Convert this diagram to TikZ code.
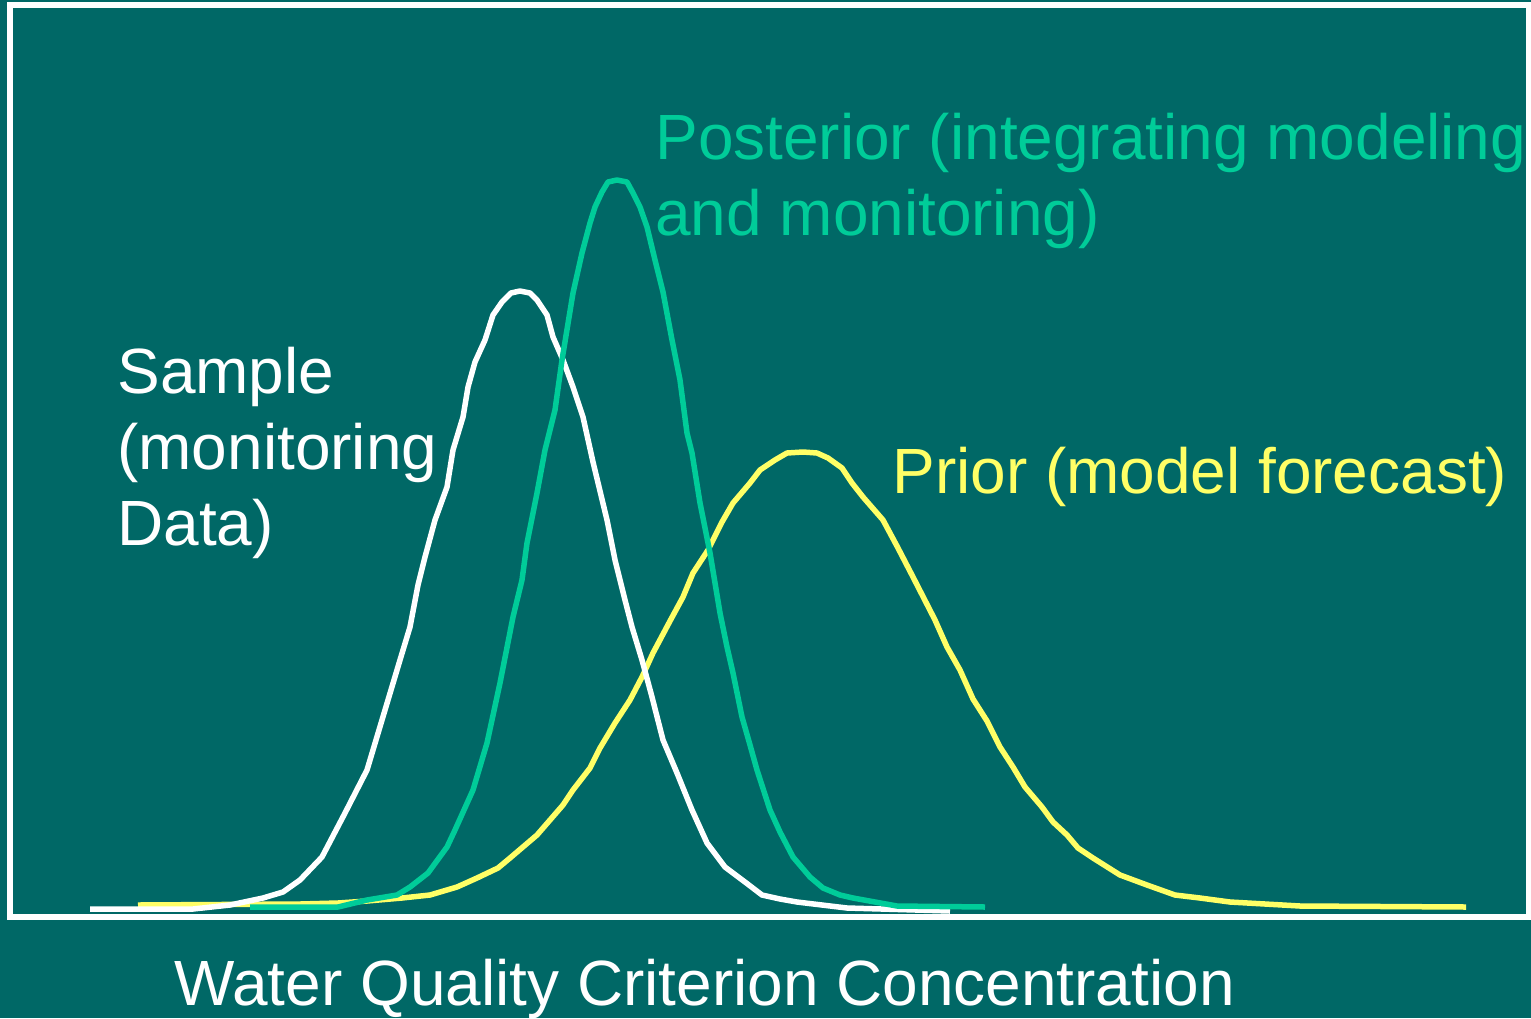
\documentclass[tikz,border=0pt]{standalone}
\usepackage{fontspec}
\setmainfont{Liberation Sans}
\usepackage{tikz}
\definecolor{bgteal}{RGB}{0,104,102}
\definecolor{postgreen}{RGB}{0,204,153}
\definecolor{prioryellow}{RGB}{255,255,102}
\tikzstyle{txt} = [anchor=base west, align=left, inner sep=0pt, font=\fontsize{36.4}{43.2}\selectfont]
\tikzstyle{curve} = [line width=0.11cm, line join=round]

\begin{document}
\begin{tikzpicture}[x=0.02cm, y=-0.02cm]
	\fill[bgteal] (0,0) rectangle (1531,1018);
	\useasboundingbox (0,0) rectangle (1531,1018);
	\draw[white, line width=0.12cm] (10,5) rectangle (1529,917);
	% prior (model forecast)
	\draw[curve, prioryellow] plot coordinates {(138,905) (300,904) (338,903) (367,901) (402,898) (430,895) (457,887) (477,878) (498,868) (510,858) (537,835) (563,805) (573,790) (590,768) (600,748) (615,723) (630,700) (642,677) (653,653) (670,621) (683,597) (693,573) (708,550) (722,522) (733,503) (750,483) (760,470) (775,460) (787,453) (803,452) (817,453) (828,458) (842,468) (852,483) (863,497) (883,520) (898,548) (913,577) (935,620) (947,647) (960,670) (973,699) (987,721) (1000,747) (1013,767) (1025,787) (1042,807) (1053,822) (1067,835) (1078,848) (1093,858) (1120,875) (1147,885) (1175,895) (1200,898) (1230,902) (1300,906) (1466,907)};
	% sample (monitoring data)
	\draw[curve, white] plot coordinates {(90,909) (193,909) (230,905) (263,898) (283,892) (300,880) (322,857) (345,813) (367,770) (382,720) (400,660) (410,627) (418,585) (425,557) (435,520) (447,487) (453,450) (463,417) (468,387) (475,362) (485,340) (493,315) (502,302) (511,293) (520,291) (530,293) (537,300) (547,315) (553,337) (563,360) (573,387) (583,417) (593,462) (607,520) (615,560) (625,600) (632,627) (642,660) (652,697) (663,740) (677,773) (692,810) (707,843) (725,867) (745,882) (762,895) (780,899) (797,902) (847,908) (950,911)};
	% posterior
	\draw[curve, postgreen] plot coordinates {(250,907) (338,907) (367,900) (397,895) (410,887) (428,873) (447,847) (455,830) (473,790) (487,743) (500,683) (513,617) (522,580) (527,543) (537,493) (545,450) (555,410) (562,360) (573,293) (582,253) (590,223) (595,207) (602,192) (608,182) (617,180) (627,182) (633,193) (640,207) (647,227) (655,260) (663,292) (672,340) (680,380) (687,433) (692,453) (700,503) (710,553) (720,613) (727,647) (733,673) (742,717) (750,745) (757,770) (770,810) (780,832) (793,857) (810,877) (823,888) (840,895) (853,898) (897,906) (985,907)};

	% base of a multi-line node is the baseline of its last line
	\node (sample) [txt, white] at (117,545) {Sample\\(monitoring\\Data)};
	\node (posterior) [txt, postgreen] at (655,235) {Posterior (integrating modeling\\and monitoring)};
	\node (prior) [txt, prioryellow] at (892,493) {Prior (model forecast)};
	\node (xlabel) [txt, white] at (174,1005) {Water Quality Criterion Concentration};
\end{tikzpicture}
\end{document}
